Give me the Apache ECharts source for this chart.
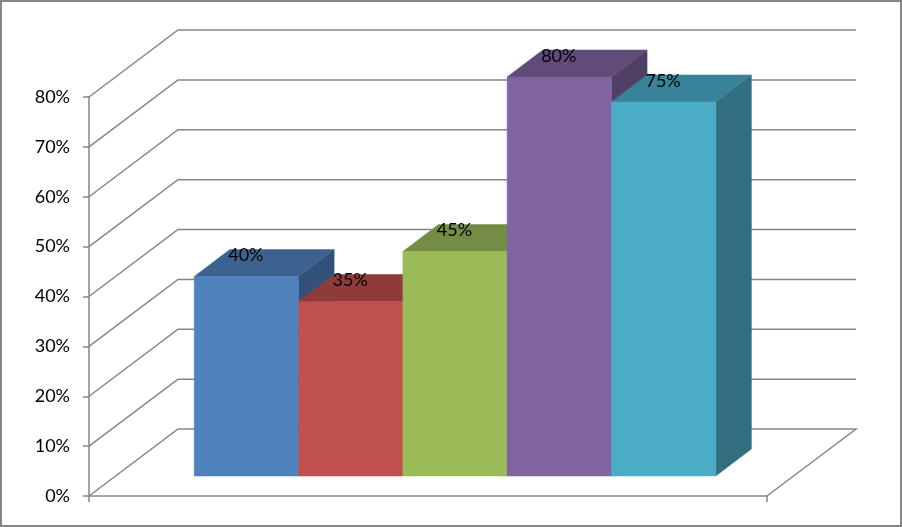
<!DOCTYPE html>
<html>
<head>
<meta charset="utf-8">
<style>
  html, body { margin: 0; padding: 0; background: #fff; }
  #chart { width: 902px; height: 527px; }
</style>
</head>
<body>
<div id="chart"></div>
<script src="https://cdn.jsdelivr.net/npm/echarts@6/dist/echarts.min.js"></script>
<script>
var yTicks = [0, 10, 20, 30, 40, 50, 60, 70, 80];
var values = [40, 35, 45, 80, 75];

var frontColors = ['#4f81bd', '#c0504d', '#9bbb59', '#8064a2', '#4bacc6'];
var topColors = ['#3c6290', '#8f3b39', '#748c43', '#604b7a', '#38829a'];
var sideColors = ['#31517a', '#793130', '#617538', '#523f66', '#316e7f'];

var xMin = -0.75, xMax = 5.75;
var lineColor = '#868686';
// 3d offsets in px
var wallDx = 89, wallDy = -67;   // floor depth
var barDx = 27, barDy = -20;   // front of the bars from the front of the floor
var depthDx = 35.6, depthDy = -27; // depth of one bar

function poly(points, color) {
  return { type: 'polygon', shape: { points: points }, style: { fill: color, stroke: color, lineWidth: 0.5 } };
}

function renderWall(params, api) {
  var tick = api.value(1);
  var a = api.coord([xMin, tick]);
  var b = api.coord([xMax, tick]);
  var pts = [a, [a[0] + wallDx, a[1] + wallDy], [b[0] + wallDx, b[1] + wallDy]];
  if (tick === 0) pts.push(b);
  return {
    type: 'polyline',
    shape: { points: pts },
    style: { fill: null, stroke: lineColor, lineWidth: 1.5 }
  };
}

function renderBar(params, api) {
  var i = api.value(0);
  var v = api.value(1);
  var lb = api.coord([i, 0]);
  var rt = api.coord([i + 1, v]);
  var x0 = lb[0] + barDx, x1 = rt[0] + barDx;
  var y0 = lb[1] + barDy, y1 = rt[1] + barDy;
  return {
    type: 'group',
    children: [
      poly([[x1, y1], [x1 + depthDx, y1 + depthDy], [x1 + depthDx, y0 + depthDy], [x1, y0]], sideColors[i]),
      poly([[x0, y1], [x0 + depthDx, y1 + depthDy], [x1 + depthDx, y1 + depthDy], [x1, y1]], topColors[i]),
      poly([[x0, y0], [x0, y1], [x1, y1], [x1, y0]], frontColors[i]),
      {
        type: 'text',
        z2: 100,
        style: {
          x: (x0 + x1) / 2 - 0.5,
          y: y1 - 21,
          text: v + '%',
          align: 'center',
          verticalAlign: 'middle',
          fill: '#000',
          font: '18px Lato'
        }
      }
    ]
  };
}

var chart = echarts.init(document.getElementById('chart'));
chart.setOption({
  animation: false,
  backgroundColor: '#fff',
  graphic: [{
    type: 'rect',
    shape: { x: 1, y: 1, width: 900, height: 525 },
    style: { fill: null, stroke: lineColor, lineWidth: 2 }
  }],
  grid: { left: 89, width: 678, top: 97, height: 399 },
  xAxis: {
    type: 'value',
    min: xMin,
    max: xMax,
    interval: xMax - xMin,
    splitLine: { show: false },
    axisLabel: { show: false },
    axisLine: { show: true, lineStyle: { color: lineColor, width: 1.5 } },
    axisTick: { show: true, length: 6, lineStyle: { color: lineColor, width: 1.5 } }
  },
  yAxis: {
    type: 'value',
    min: 0,
    max: 80,
    interval: 10,
    splitLine: { show: false },
    axisLine: { show: true, onZero: false, lineStyle: { color: lineColor, width: 1.5 } },
    axisTick: { show: true, length: 6, lineStyle: { color: lineColor, width: 1.5 } },
    axisLabel: {
      formatter: '{value}%',
      margin: 19,
      padding: [2, 0, 0, 0],
      color: '#000',
      fontFamily: 'Lato',
      fontSize: 18
    }
  },
  series: [
    {
      type: 'custom',
      renderItem: renderWall,
      data: yTicks.map(function (t) { return [0, t]; }),
      silent: true,
      z: 1
    },
    {
      type: 'custom',
      renderItem: renderBar,
      data: values.map(function (v, i) { return [i, v]; }),
      silent: true,
      z: 2
    }
  ]
});
</script>
</body>
</html>
